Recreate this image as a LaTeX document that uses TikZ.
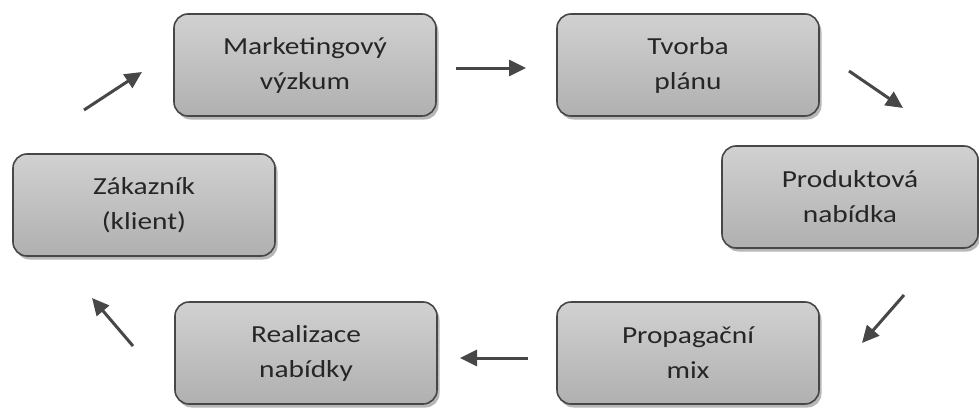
\documentclass[tikz,border=0pt]{standalone}
\usepackage{fontspec}
\setmainfont{Carlito}
\newfontfamily\boxfont[FakeStretch=1.2]{Carlito}
\usepackage{tikz}
\usetikzlibrary{arrows.meta,shadows,positioning}
\definecolor{boxline}{HTML}{474747}
\definecolor{boxtext}{HTML}{262626}
\tikzset{
    step-box/.style = {draw=boxline, line width=1.6pt, rectangle, rounded corners=14pt,
        top color=gray!36, bottom color=gray!62, minimum width=262pt, minimum height=102pt,
        align=center, text=boxtext, font=\boxfont\fontsize{24.5}{35}\selectfont,
        drop shadow={shadow xshift=2.5pt, shadow yshift=-3.5pt, fill=gray!75, opacity=0.75}},
    flow-arrow/.style = {draw=boxline, line width=3pt, -{Triangle[length=17pt,width=16pt]}},
}

\begin{document}
\begin{tikzpicture}[x=1pt,y=-1pt]
\useasboundingbox (0,0) rectangle (979,412);
\node[step-box] (vyzkum) at (305,65) {Marketingový\\výzkum};
\node[step-box] (plan) at (688,65) {Tvorba\\plánu};
\node[step-box] (klient) at (144,205) {Zákazník\\(klient)};
\node[step-box, minimum width=256pt] (nabidka) at (850,197) {Produktová\\nabídka};
\node[step-box] (mix) at (688,353) {Propagační\\mix};
\node[step-box] (realizace) at (306,353) {Realizace\\nabídky};

% arrow ends
\coordinate (a1s) at (84,110);  \coordinate (a1e) at (142,72);
\coordinate (a2s) at (456,68);  \coordinate (a2e) at (526,68);
\coordinate (a3s) at (849,71);  \coordinate (a3e) at (903,108);
\coordinate (a4s) at (904,295); \coordinate (a4e) at (862,343);
\coordinate (a5s) at (528,358); \coordinate (a5e) at (460,358);
\coordinate (a6s) at (133,346); \coordinate (a6e) at (92,298);

\draw[flow-arrow] (a1s) -- (a1e);
\draw[flow-arrow] (a2s) -- (a2e);
\draw[flow-arrow] (a3s) -- (a3e);
\draw[flow-arrow] (a4s) -- (a4e);
\draw[flow-arrow] (a5s) -- (a5e);
\draw[flow-arrow] (a6s) -- (a6e);
\end{tikzpicture}
\end{document}
